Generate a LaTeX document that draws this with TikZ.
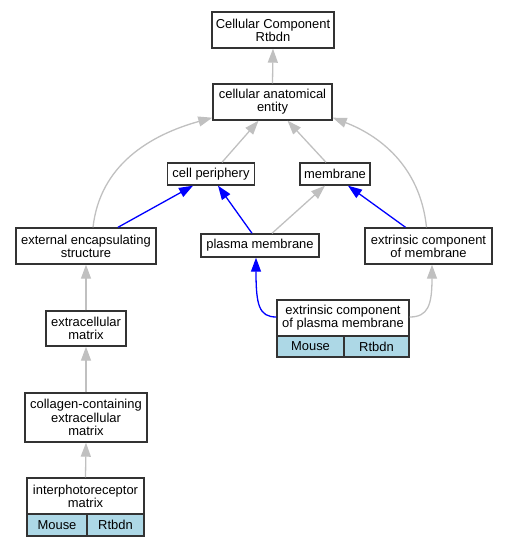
\documentclass[tikz,border=0pt]{standalone}
\usepackage{fontspec}
\setmainfont{Liberation Sans}
\usetikzlibrary{arrows.meta,calc}
\definecolor{edgegray}{HTML}{C0C0C0}
\definecolor{cellblue}{HTML}{ADD8E6}
\definecolor{boxline}{HTML}{333333}
\begin{document}
\begin{tikzpicture}[x=1bp,y=-1bp,
  box/.style={draw=boxline,line width=1.4bp,fill=white,rectangle,inner sep=0pt,align=center,
    font=\fontsize{13}{13.3}\selectfont},
  cell/.style={box,fill=cellblue},
  gedge/.style={draw=edgegray,line width=1.3bp,-{Triangle[length=14bp,width=10bp]}},
  bedge/.style={draw=blue,line width=1.3bp,-{Triangle[length=14bp,width=10bp]}}]
\useasboundingbox (0,0) rectangle (507,547);
% nodes
\node[box,minimum width=122bp,minimum height=36bp] (top) at (273,30) {Cellular Component\\Rtbdn};
\node[box,minimum width=119bp,minimum height=36bp] (cae) at (272.5,102) {cellular anatomical\\entity};
\node[box,minimum width=87bp,minimum height=22bp] (cp) at (211,174) {cell periphery};
\node[box,minimum width=70bp,minimum height=22bp] (mem) at (335,174) {membrane};
\node[box,minimum width=140bp,minimum height=36bp] (ees) at (86,246) {external encapsulating\\structure};
\node[box,minimum width=118bp,minimum height=23bp] (pm) at (260,245.5) {plasma membrane};
\node[box,minimum width=127bp,minimum height=36bp] (ecm) at (428.5,246) {extrinsic component\\of membrane};
\node[box,minimum width=132bp,minimum height=36bp] (ecpm) at (343,318) {extrinsic component\\of plasma membrane};
\node[cell,minimum width=67bp,minimum height=21bp] (ecpmA) at (310.5,346.5) {Mouse};
\node[cell,minimum width=65bp,minimum height=21bp] (ecpmB) at (376.5,346.5) {Rtbdn};
\node[box,minimum width=80bp,minimum height=35bp] (exm) at (86,328.5) {extracellular\\matrix};
\node[box,minimum width=122bp,minimum height=49bp] (coll) at (86,417.5) {collagen-containing\\extracellular\\matrix};
\node[box,minimum width=117bp,minimum height=36bp] (ipm) at (85.5,496) {interphotoreceptor\\matrix};
\node[cell,minimum width=60bp,minimum height=22bp] (ipmA) at (57,525) {Mouse};
\node[cell,minimum width=57bp,minimum height=22bp] (ipmB) at (115.5,525) {Rtbdn};
% edges
\draw[gedge] (cae.north) -- (top.south);
\draw[gedge] ($(cp.north)+(11,0)$) -- ($(cae.south)+(-14,0)$);
\draw[gedge] ($(mem.north)+(-9,0)$) -- ($(cae.south)+(15,0)$);
\draw[gedge] ($(ees.north)+(7,0)$) .. controls (100,165) and (150,135) .. ($(cae.south west)+(0,-3)$);
\draw[gedge] ($(ecm.north)+(-2,0)$) .. controls (420,165) and (378,135) .. ($(cae.south east)+(0,-3)$);
\draw[bedge] ($(ees.north)+(32,0)$) -- ($(cp.south)+(-18,0)$);
\draw[bedge] ($(pm.north)+(-8,0)$) -- ($(cp.south)+(7,0)$);
\draw[gedge] ($(pm.north)+(12,0)$) -- ($(mem.south)+(-10,0)$);
\draw[bedge] ($(ecm.north)+(-23,0)$) -- ($(mem.south)+(13,0)$);
\draw[bedge] ($(ecpm.west)+(0,-1)$) .. controls (259,317) and (256,305) .. ($(pm.south)+(-4,0)$);
\draw[gedge] ($(ecpm.east)+(0,-1)$) .. controls (428,317) and (432,305) .. ($(ecm.south)+(3.5,0)$);
\draw[gedge] (exm.north) -- (ees.south);
\draw[gedge] (coll.north) -- (exm.south);
\draw[gedge] (ipm.north) -- (coll.south);
\end{tikzpicture}
\end{document}
